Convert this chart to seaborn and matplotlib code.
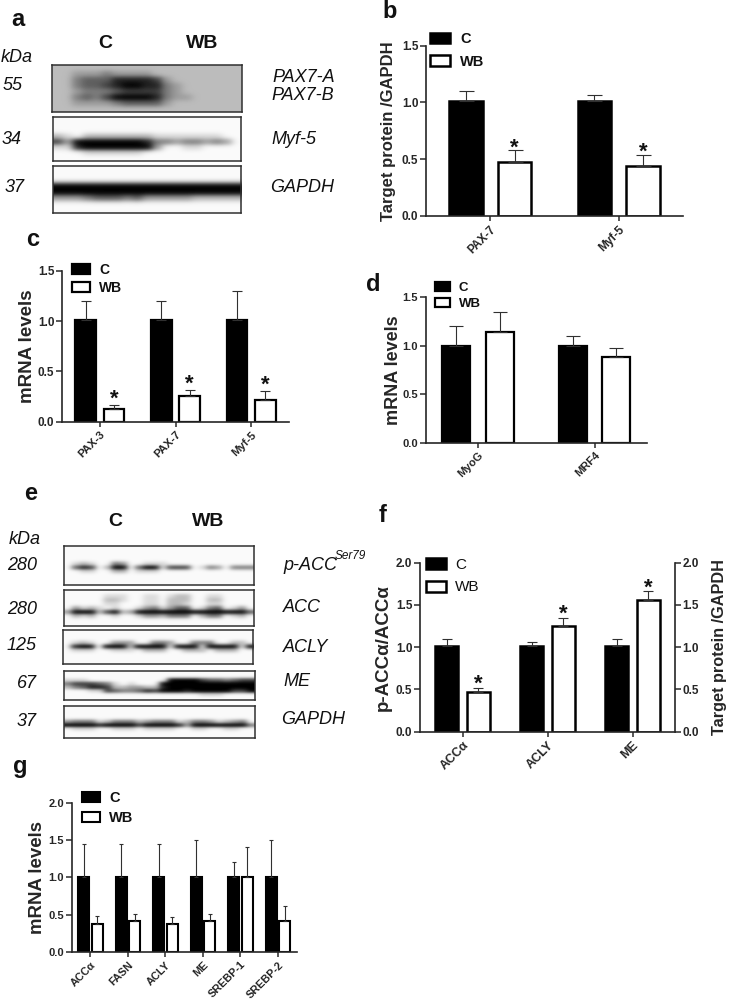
import numpy as np
import pandas as pd
import matplotlib
matplotlib.use("Agg")
import matplotlib.pyplot as plt
import seaborn as sns

# --- panel b ---
b_targets = ["PAX-7", "Myf-5"]
b_c = [1.01, 1.01]
b_wb = [0.48, 0.44]
b_c_top = [1.10, 1.07]
b_wb_top = [0.58, 0.54]

# --- panel c ---
c_targets = ["PAX-3", "PAX-7", "Myf-5"]
c_c = [1.01, 1.01, 1.01]
c_wb = [0.13, 0.26, 0.22]
c_c_top = [1.20, 1.20, 1.30]
c_wb_top = [0.17, 0.32, 0.31]

# --- panel d ---
d_targets = ["MyoG", "MRF4"]
d_c = [1.00, 1.00]
d_wb = [1.14, 0.88]
d_c_top = [1.20, 1.10]
d_wb_top = [1.35, 0.98]

# --- panel f ---
f_targets = ["ACC\u03b1", "ACLY", "ME"]
f_c = [1.01, 1.01, 1.01]
f_wb = [0.47, 1.25, 1.56]
f_c_top = [1.10, 1.06, 1.10]
f_wb_top = [0.52, 1.35, 1.66]

# --- panel g ---
g_targets = ["ACC\u03b1", "FASN", "ACLY", "ME", "SREBP-1", "SREBP-2"]
g_c = [1.01, 1.01, 1.01, 1.01, 1.01, 1.01]
g_wb = [0.38, 0.41, 0.37, 0.41, 1.01, 0.42]
g_c_top = [1.45, 1.45, 1.45, 1.50, 1.20, 1.50]
g_wb_top = [0.48, 0.51, 0.47, 0.51, 1.40, 0.62]

# --- blots, darkness 0-9 read by eye ---
blot_pax7 = [
    "2222222222222222222",
    "2233343333222222222",
    "2245557777632222222",
    "2245567887743222222",
    "2234445666643222222",
    "2245469999743322222",
    "2233334555532222222",
    "2222222222222222222",
]
blot_myf5 = [
    "0000000000000000000",
    "0000000000000000000",
    "0000000000000000000",
    "2102222222111111100",
    "6399999997443443430",
    "1179999998300110000",
    "0001111110000000000",
    "0000000000000000000",
]
blot_gapdh_a = [
    "0000000000000000000",
    "0000000000000000000",
    "0000000000000000000",
    "9999899989998999999",
    "9999899989999999998",
    "3334555453333322222",
    "0000000000000000000",
    "0000000000000000000",
]
blot_pacc = [
    "000000000000000000000000",
    "000000000000000000000000",
    "000000000000000000000000",
    "000000000000000000000000",
    "012100430011100000000000",
    "057602990588166601430444",
    "001100220111000000000000",
    "000000000000000000000000",
    "000000000000000000000000",
    "000000000000000000000000",
]
blot_acc = [
    "000000000000000000000000",
    "000001110011012200110000",
    "000002210011022200220000",
    "000001100011022100110000",
    "031210100134135501450130",
    "399926923999999999999995",
    "021200100133244402440120",
    "000000000000000000000000",
    "000000000000000000000000",
]
blot_acly = [
    "000000000000000000000000",
    "000000000000000000000000",
    "000000000000000000000000",
    "012100333004430044400220",
    "079909992999919991999919",
    "011100111022200222022200",
    "000000000000000000000000",
    "000000000000000000000000",
    "000000000000000000000000",
]
blot_me = [
    "000000000000000000000000",
    "000000000000000000000000",
    "111000000000099986554566",
    "466654101000999999998899",
    "245776223322799999999899",
    "000116544576899799999668",
    "000000000000000001110000",
    "000000000000000000000000",
]
blot_gapdh_e = [
    "000000000000000000000000",
    "000000000000000000000000",
    "000000000000000000000000",
    "000000000000000000000000",
    "344412444234441244312340",
    "999979999699997399989994",
    "011100111011110011001100",
    "000000000000000000000000",
    "000000000000000000000000",
]

FIG_W, FIG_H = 729, 1000
BLACK = "#111111"
LINE = "#2a2a2a"

sns.set_style("ticks")
plt.rcParams["font.family"] = ["Liberation Sans", "DejaVu Sans"]
plt.rcParams["axes.linewidth"] = 1.2
plt.rcParams["text.color"] = BLACK

fig = plt.figure(figsize=(7.29, 10), dpi=100, facecolor="white")


def fx(x):
    return x / FIG_W


def fy(y):
    return 1 - y / FIG_H


def label(x, y, s, **kw):
    kw.setdefault("va", "center")
    kw.setdefault("ha", "left")
    fig.text(fx(x), fy(y), s, **kw)


def bar_panel(box, targets, c_vals, wb_vals, c_top, wb_top, ymax, yticks, stars,
              width, gap, xpad, cap, lw, tick_size, xtick_size, ylabel, ylabel_size,
              ylabel_x, legend_box, legend_size, legend_weight="bold", star_size=16,
              star_off=0.0):
    left, top, right, bottom = box
    ax = fig.add_axes([fx(left), fy(bottom), (right - left) / FIG_W, (bottom - top) / FIG_H])
    df = pd.DataFrame({
        "target": targets * 2,
        "group": ["C"] * len(targets) + ["WB"] * len(targets),
        "value": c_vals + wb_vals,
    })
    sns.barplot(data=df, x="target", y="value", hue="group", order=targets,
                palette={"C": "black", "WB": "white"}, edgecolor="black",
                linewidth=lw, width=width, gap=gap, saturation=1, errorbar=None, ax=ax)
    ax.set_xlim(-0.5 + xpad, len(targets) - 0.5 - xpad)
    ax.set_ylim(0, ymax)
    ax.set_yticks(yticks)
    ax.set_yticklabels([f"{t:.1f}" for t in yticks], fontsize=tick_size, fontweight="bold")
    ax.tick_params(axis="y", length=4, width=1.1, pad=1.5, color=LINE)
    ax.tick_params(axis="x", length=3.5, width=1.1, pad=2, color=LINE)
    ax.set_xticks(range(len(targets)))
    ax.set_xticklabels(targets, rotation=45, ha="right", rotation_mode="anchor",
                       fontsize=xtick_size, fontweight="bold")
    ax.set_xlabel("")
    ax.set_ylabel(ylabel, fontsize=ylabel_size, fontweight="bold", va="center", labelpad=0)
    ax.yaxis.set_label_coords((ylabel_x - left) / (right - left), 0.5)
    sns.despine(ax=ax)

    # upper error bars and stars
    for container, vals, tops in zip(ax.containers, (c_vals, wb_vals), (c_top, wb_top)):
        xs = [p.get_x() + p.get_width() / 2 for p in container]
        ups = [t - v for t, v in zip(tops, vals)]
        ax.errorbar(xs, vals, yerr=[[0] * len(vals), ups], fmt="none", ecolor="#303030",
                    elinewidth=0.8, capsize=cap, capthick=0.8, zorder=1)
    for i in stars:
        bar = ax.containers[1][i]
        ax.text(bar.get_x() + bar.get_width() / 2, wb_top[i] + star_off, "*", ha="center",
                va="center", fontsize=star_size, fontweight="bold", color=BLACK)

    # legend placed by its pixel box
    lx, ly, hw, hh, spacing, txt_pad = legend_box
    handles, labels = ax.get_legend_handles_labels()
    leg = ax.legend(handles, labels, loc="upper left", bbox_to_anchor=(fx(lx), fy(ly)),
                    bbox_transform=fig.transFigure, frameon=False, borderpad=0, borderaxespad=0,
                    handlelength=hw / (legend_size * 100 / 72),
                    handleheight=hh / (legend_size * 100 / 72),
                    labelspacing=spacing, handletextpad=txt_pad,
                    prop={"size": legend_size, "weight": legend_weight})
    leg.set_zorder(5)
    return ax


def blot(box, rows):
    left, top, right, bottom = box
    ax = fig.add_axes([fx(left), fy(bottom), (right - left) / FIG_W, (bottom - top) / FIG_H])
    img = np.array([[int(d) for d in r] for r in rows], dtype=float) / 9
    img = np.clip(img * 1.1 + 0.02, 0, 1)
    ax.imshow(img, cmap="gray_r", vmin=0, vmax=1, aspect="auto", interpolation="gaussian")
    ax.set_xticks([])
    ax.set_yticks([])
    for s in ax.spines.values():
        s.set_linewidth(1.1)
        s.set_color("#303030")
    return ax


# --- bar panels ---
bar_panel((426, 45.7, 683, 216), b_targets, b_c, b_wb, b_c_top, b_wb_top, 1.5, [0, 0.5, 1.0, 1.5], [0, 1],
          0.755, 0.3, 0, 5.4, 1.8, 8.5, 8.5, "Target protein /GAPDH", 12, 388,
          (430, 32, 20, 11, 0.6, 0.7), 10.5, star_off=0.02)
bar_panel((62, 271, 289, 421.7), c_targets, c_c, c_wb, c_c_top, c_wb_top, 1.5, [0, 0.5, 1.0, 1.5], [0, 1, 2],
          0.75, 0.28, 0, 3.3, 1.6, 8.5, 8.2, "mRNA levels", 13.5, 28,
          (72, 263, 18, 10, 0.3, 0.65), 10, star_off=0.05)
bar_panel((425.7, 297.3, 647, 442.7), d_targets, d_c, d_wb, d_c_top, d_wb_top, 1.5, [0, 0.5, 1.0, 1.5], [],
          0.752, 0.36, 0.05, 5, 1.6, 8, 8, "mRNA levels", 13, 393,
          (435, 282, 15, 8, 0.3, 0.65), 9.5)
ax_f = bar_panel((420, 562.7, 675, 731.7), f_targets, f_c, f_wb, f_c_top, f_wb_top, 2.0, [0, 0.5, 1.0, 1.5, 2.0], [0, 1, 2],
                 0.752, 0.3, 0, 3.6, 1.8, 8.5, 9, "p-ACC\u03b1/ACC\u03b1", 13.5, 383,
                 (426, 558, 20, 11, 0.55, 0.6), 11, legend_weight="normal", star_off=0.04)
ax_right = ax_f.twinx()
ax_right.set_ylim(0, 2.0)
ax_right.set_yticks([0, 0.5, 1.0, 1.5, 2.0])
ax_right.set_yticklabels(["0.0", "0.5", "1.0", "1.5", "2.0"], fontsize=8.5, fontweight="bold")
ax_right.tick_params(axis="y", length=4, width=1.1, pad=1.5, color=LINE)
ax_right.grid(False)
for side in ("top", "left", "bottom"):
    ax_right.spines[side].set_visible(False)
ax_right.spines["right"].set_visible(True)
ax_right.set_ylabel("Target protein /GAPDH", fontsize=11.7, fontweight="bold", va="center")
ax_right.yaxis.set_label_coords((719 - 420) / (675 - 420), 0.5)
bar_panel((71.7, 802.7, 296.7, 952), g_targets, g_c, g_wb, g_c_top, g_wb_top, 2.0, [0, 0.5, 1.0, 1.5, 2.0], [],
          0.72, 0.2, 0, 1.6, 1.5, 8, 7.8, "mRNA levels", 13.4, 38,
          (82, 791, 18, 10, 0.42, 0.65), 10.5)

# --- blot panel a ---
blot((52, 65, 242, 112), blot_pax7)
blot((52.5, 117, 241, 161), blot_myf5)
blot((52.5, 166, 241, 213), blot_gapdh_a)
label(105, 43, "C", ha="center", fontsize=14, fontweight="bold")
label(202, 43, "WB", ha="center", fontsize=14, fontweight="bold")
for x, y, s in [(1, 58, "kDa"), (3, 86, "55"), (2, 140, "34"), (5, 188, "37"),
                (272, 78, "PAX7-A"), (271, 96, "PAX7-B"), (271, 139, "Myf-5"), (270, 188, "GAPDH")]:
    label(x, y, s, fontsize=13, style="italic")

# --- blot panel e ---
blot((64, 546, 254, 585), blot_pacc)
blot((64, 590, 254, 626), blot_acc)
blot((62.5, 630, 253, 664), blot_acly)
blot((64, 671, 255, 700), blot_me)
blot((64, 706, 255, 738), blot_gapdh_e)
label(115, 522, "C", ha="center", fontsize=14, fontweight="bold")
label(208, 522, "WB", ha="center", fontsize=14, fontweight="bold")
for x, y, s in [(9, 540, "kDa"), (7, 565, "280"), (7, 609, "280"), (7, 646, "125"), (17, 683, "67"), (17, 722, "37"),
                (283, 565, "p-ACC"), (283, 607, "ACC"), (283, 647, "ACLY"), (283, 682, "ME"), (281, 720, "GAPDH")]:
    label(x, y, s, fontsize=13, style="italic")
label(335, 556, "Ser79", fontsize=8.5, style="italic")

# --- panel letters ---
for x, y, s in [(18, 20, "a"), (390, 12, "b"), (33, 240, "c"), (373, 285, "d"),
                (31, 494, "e"), (383, 516, "f"), (20, 767, "g")]:
    label(x, y, s, ha="center", fontsize=17, fontweight="bold")

fig.savefig("out.png", dpi=100)
